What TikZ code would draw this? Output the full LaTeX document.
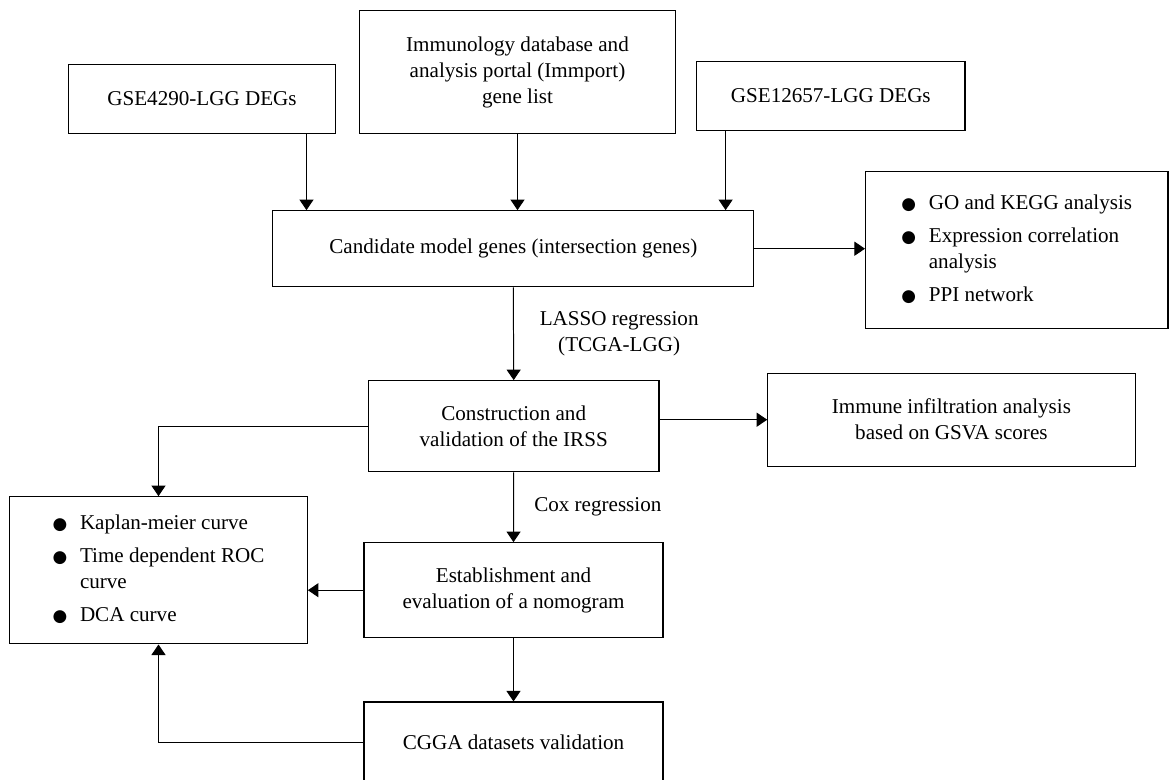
\documentclass[tikz,border=0pt]{standalone}
\usepackage{fontspec}
\setmainfont{Liberation Serif}
\newfontfamily\symfont{DejaVu Sans}
\usetikzlibrary{arrows.meta}
\newcommand{\dotitem}{{\symfont\fontsize{12}{12}\selectfont ●}}

\begin{document}
\begin{tikzpicture}[x=0.025cm, y=-0.025cm,
    box/.style={draw, line width=0.8pt, align=center, font=\fontsize{15}{18.5}\selectfont},
    arr/.style={-{Triangle[width=10pt,length=7.5pt]}, line width=0.7pt},
    lbl/.style={font=\fontsize{15}{18.5}\selectfont, align=center}]
    \useasboundingbox (0,0) rectangle (1169,779);

    \node[box, minimum width=6.675cm, minimum height=1.725cm] (gse4290) at (202,99) {GSE4290-LGG DEGs};
    \node[box, minimum width=7.89cm, minimum height=3.065cm] (immport) at (517.5,72)
        {Immunology database and\\analysis portal (Immport)\\gene list};
    \node[box, minimum width=6.71cm, minimum height=1.71cm] (gse12657) at (830.8,96) {GSE12657-LGG DEGs};
    \node[box, minimum width=12.025cm, minimum height=1.9cm] (cand) at (513.3,248.7)
        {Candidate model genes (intersection genes)};
    \node[box, minimum width=7.56cm, minimum height=3.93cm] (enrich) at (1016.8,250.3)
        {\begin{tabular}{@{}l@{\hspace{9pt}}l@{}}
            \dotitem & GO and KEGG analysis\\[5pt]
            \dotitem & Expression correlation\\
                     & analysis\\[5pt]
            \dotitem & PPI network
         \end{tabular}};
    \node[box, minimum width=7.26cm, minimum height=2.275cm] (irss) at (513.7,426.2)
        {Construction and\\validation of the IRSS};
    \node[box, minimum width=9.18cm, minimum height=2.32cm] (gsva) at (951.4,419.7)
        {Immune infiltration analysis\\based on GSVA scores};
    \node[box, minimum width=7.44cm, minimum height=3.68cm] (curves) at (158.5,570.3)
        {\begin{tabular}{@{}l@{\hspace{9pt}}l@{}}
            \dotitem & Kaplan-meier curve\\[5pt]
            \dotitem & Time dependent ROC\\
                     & curve\\[5pt]
            \dotitem & DCA curve
         \end{tabular}};
    \node[box, minimum width=7.475cm, minimum height=2.375cm] (nomo) at (513.5,590.2)
        {Establishment and\\evaluation of a nomogram};
    \node[box, minimum width=7.475cm, minimum height=2cm] (cgga) at (513.5,742)
        {CGGA datasets validation};

    \draw[arr] ([xshift=-0.74cm]gse4290.south east) -- ([xshift=-0.74cm]gse4290.south east |- cand.north);
    \draw[arr] (immport.south) -- (immport.south |- cand.north);
    \draw[arr] ([xshift=0.74cm]gse12657.south west) -- ([xshift=0.74cm]gse12657.south west |- cand.north);
    \draw[arr] (cand.east) -- (cand.east -| enrich.west);
    \draw[arr] (cand.south) -- (irss.north)
        node[lbl, midway, right=15pt] {LASSO regression\\(TCGA-LGG)};
    \draw[arr] (gsva.west -| irss.east) -- (gsva.west);
    \draw[arr] (irss.west) -| (curves.north);
    \draw[arr] (irss.south) -- (nomo.north)
        node[lbl, midway, right=11pt] {Cox regression};
    \draw[arr] (nomo.west) -- (nomo.west -| curves.east);
    \draw[arr] (nomo.south) -- (cgga.north);
    \draw[arr] (cgga.west) -| (curves.south);
\end{tikzpicture}
\end{document}
